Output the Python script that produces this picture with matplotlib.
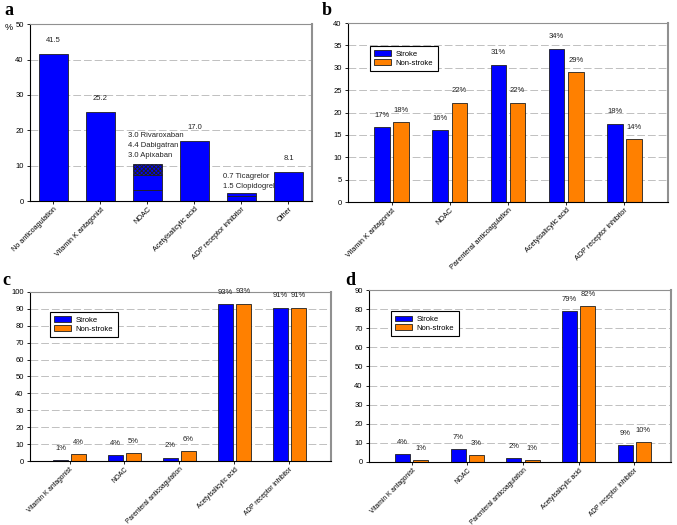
import matplotlib
matplotlib.use("Agg")
import matplotlib.pyplot as plt
import numpy as np

plt.rcParams['font.family'] = ['Liberation Sans', 'DejaVu Sans']
plt.rcParams['hatch.color'] = '#000030'
plt.rcParams['hatch.linewidth'] = 0.7

BLUE = '#0000FF'
ORANGE = '#FF8000'

# panel a
cats_a = ['No anticoagulation', 'Vitamin K antagonist', 'NOAC',
          'Acetylsalicylic acid', 'ADP receptor inhibitor', 'Other']
vals_a = [41.5, 25.2, None, 17.0, None, 8.1]
noac_parts = [3.0, 4.4, 3.0]  # Apixaban, Dabigatran, Rivaroxaban
noac_names = ['Apixaban', 'Dabigatran', 'Rivaroxaban']
adp_parts = [1.5, 0.7]  # Clopidogrel, Ticagrelor
adp_names = ['Clopidogrel', 'Ticagrelor']

# panels b, c, d
cats = ['Vitamin K antagonist', 'NOAC', 'Parenteral anticoagulation',
        'Acetylsalicylic acid', 'ADP receptor inhibitor']
b_stroke = [16.8, 16.1, 30.7, 34.3, 17.5]
b_non = [17.8, 22.2, 22.2, 29.1, 14.0]
b_stroke_lbl = ['17%', '16%', '31%', '34%', '18%']
b_non_lbl = ['18%', '22%', '22%', '29%', '14%']

c_stroke = [0.5, 3.5, 2.0, 92.9, 90.7]
c_non = [4.1, 4.7, 5.7, 93.1, 90.7]
c_stroke_lbl = ['1%', '4%', '2%', '93%', '91%']
c_non_lbl = ['4%', '5%', '6%', '93%', '91%']

d_stroke = [4.0, 6.8, 1.9, 78.9, 8.7]
d_non = [0.9, 3.5, 0.9, 81.7, 10.3]
d_stroke_lbl = ['4%', '7%', '2%', '79%', '9%']
d_non_lbl = ['1%', '3%', '1%', '82%', '10%']


def style_axes(ax, ymax, step, xsize=5.2):
    ax.set_ylim(0, ymax)
    ax.set_yticks(np.arange(0, ymax + 0.1, step))
    ax.yaxis.grid(True, color='#c0c0c0', linestyle=(0, (8, 3)), linewidth=0.7)
    ax.set_axisbelow(True)
    ax.spines['top'].set_color('#909090')
    ax.spines['right'].set_color('#909090')
    ax.spines['right'].set_linewidth(1.5)
    ax.spines['left'].set_linewidth(0.8)
    ax.spines['bottom'].set_linewidth(0.8)
    ax.tick_params(axis='y', labelsize=5.5, length=2.5, width=0.6, pad=2)
    ax.tick_params(axis='x', labelsize=xsize, length=2.5, width=0.6, pad=1)


def label_bars(ax, bars, labels, off=8.5):
    for b, t in zip(bars, labels):
        ax.annotate(t, (b.get_x() + b.get_width() / 2, b.get_height()),
                    xytext=(0, off), textcoords='offset points',
                    ha='center', va='center', fontsize=5.5, color='#222222')


def grouped(ax, s, n, sl, nl, ymax, step, xlim, legend_pos, xsize):
    x = np.arange(len(cats))
    w = 0.27
    b1 = ax.bar(x - 0.165, s, w, color=BLUE, edgecolor='#202020', linewidth=0.6,
                label='Stroke')
    b2 = ax.bar(x + 0.165, n, w, color=ORANGE, edgecolor='#202020', linewidth=0.6,
                label='Non-stroke')
    label_bars(ax, b1, sl)
    label_bars(ax, b2, nl)
    style_axes(ax, ymax, step, xsize)
    ax.set_xlim(*xlim)
    ax.set_xticks(x)
    ax.set_xticklabels(cats, rotation=45, ha='right', rotation_mode='anchor')
    leg = ax.legend(loc='upper left', bbox_to_anchor=legend_pos, fontsize=5.5,
                    fancybox=False, framealpha=1, edgecolor='black',
                    handlelength=2.2, handleheight=0.7, borderpad=0.6,
                    labelspacing=0.2, handletextpad=0.6)
    leg.get_frame().set_linewidth(0.8)


fig = plt.figure(figsize=(6.77, 5.25), dpi=100)

# ---- panel a
ax = fig.add_axes([0.0443, 0.617, 0.4165, 0.337])
xa = np.arange(len(cats_a))
wa = 0.62
simple = [i for i, v in enumerate(vals_a) if v is not None]
bars = ax.bar([xa[i] for i in simple], [vals_a[i] for i in simple], wa,
              color=BLUE, edgecolor='#202020', linewidth=0.6)
label_bars(ax, bars, ['%.1f' % vals_a[i] for i in simple], off=10)

# NOAC stacked
bottom = 0
for k, (v, name) in enumerate(zip(noac_parts, noac_names)):
    ax.bar(xa[2], v, wa, bottom=bottom, color=BLUE, edgecolor='#202020',
           linewidth=0.6, hatch='xxxxxxxx' if k == 2 else None)
    bottom += v
noac_top = bottom
for k, (v, name) in enumerate(zip(noac_parts, noac_names)):
    ax.annotate('%.1f %s' % (v, name), (xa[2] - 0.41, noac_top),
                xytext=(0, 6 + 7.2 * k), textcoords='offset points',
                ha='left', va='center', fontsize=5.5, color='#222222')

# ADP stacked
bottom = 0
for v in adp_parts:
    ax.bar(xa[4], v, wa, bottom=bottom, color=BLUE, edgecolor='#202020',
           linewidth=0.6)
    bottom += v
adp_top = bottom
for k, (v, name) in enumerate(zip(adp_parts, adp_names)):
    ax.annotate('%.1f %s' % (v, name), (xa[4] - 0.4, adp_top),
                xytext=(0, 5 + 7.2 * k), textcoords='offset points',
                ha='left', va='center', fontsize=5.5, color='#222222')

style_axes(ax, 50, 10)
ax.set_xlim(-0.5, 5.5)
ax.set_xticks(xa)
ax.set_xticklabels(cats_a, rotation=45, ha='right', rotation_mode='anchor')

# ---- panel b
ax = fig.add_axes([0.514, 0.615, 0.4727, 0.341])
grouped(ax, b_stroke, b_non, b_stroke_lbl, b_non_lbl, 40, 5, (-0.75, 4.75),
        (0.056, 0.894), 5.2)

# ---- panel c
ax = fig.add_axes([0.0443, 0.1219, 0.4446, 0.322])
grouped(ax, c_stroke, c_non, c_stroke_lbl, c_non_lbl, 100, 10, (-0.72, 4.76),
        (0.053, 0.905), 4.8)

# ---- panel d
ax = fig.add_axes([0.545, 0.12, 0.446, 0.3276])
grouped(ax, d_stroke, d_non, d_stroke_lbl, d_non_lbl, 90, 10, (-0.77, 4.66),
        (0.06, 0.90), 4.8)

# panel letters
for lx, ly, t in [(0.006, 0.98, 'a'), (0.475, 0.98, 'b'),
                  (0.004, 0.465, 'c'), (0.51, 0.465, 'd')]:
    fig.text(lx, ly, t, fontsize=13, fontweight='bold',
             family='Liberation Serif', va='center', ha='left')
fig.text(0.007, 0.947, '%', fontsize=6.5, va='center', ha='left')

fig.savefig('out.png', dpi=100)
